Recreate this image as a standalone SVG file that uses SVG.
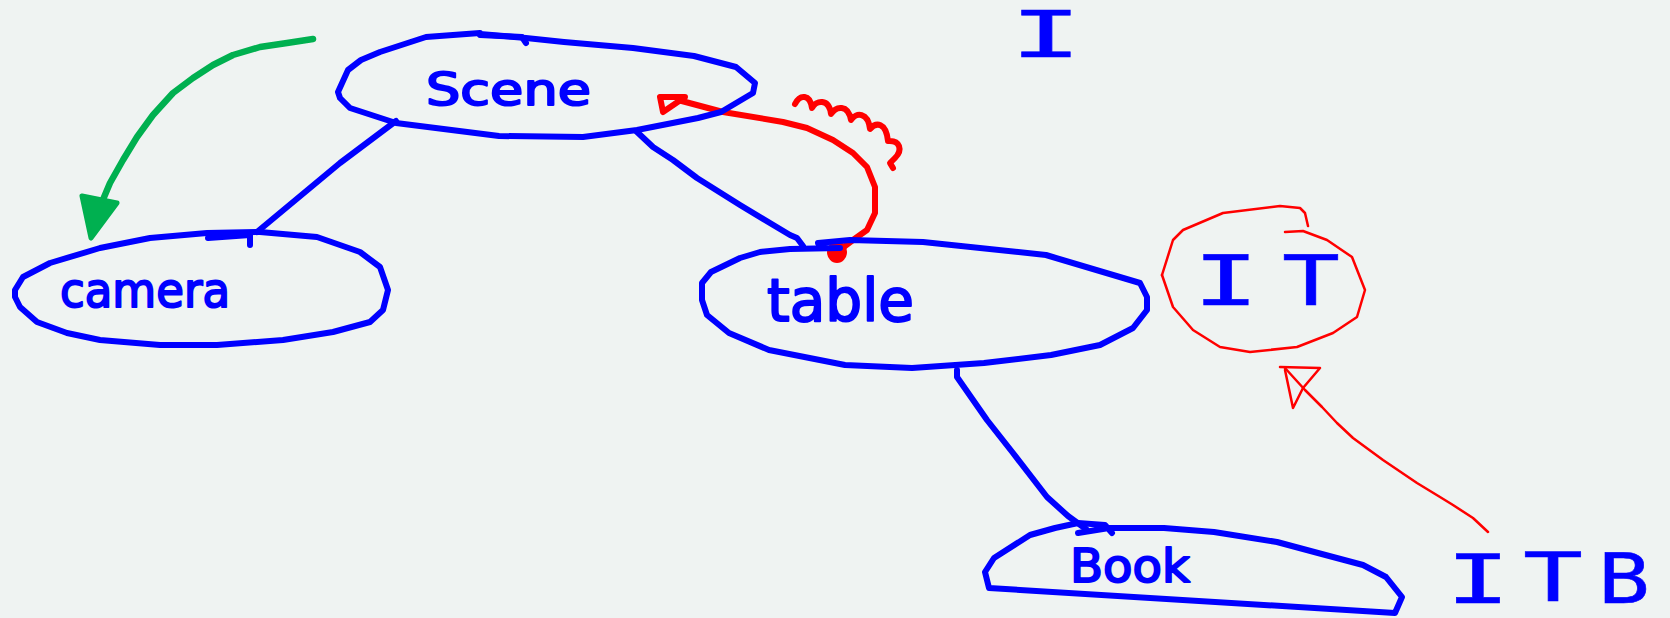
<svg xmlns="http://www.w3.org/2000/svg" width="1670" height="618" viewBox="0 0 1670 618">
<style>
.bg{fill:#eff3f2}
.b{fill:none;stroke:#0000ff;stroke-width:6;stroke-linecap:round;stroke-linejoin:round}
.r{fill:none;stroke:#ff0000;stroke-width:6;stroke-linecap:round;stroke-linejoin:round}
.rt{fill:none;stroke:#ff0000;stroke-width:2.5;stroke-linecap:round;stroke-linejoin:round}
.g{fill:none;stroke:#00b050;stroke-width:6.5;stroke-linecap:round;stroke-linejoin:round}
.lbl{font-family:"DejaVu Sans","Liberation Sans",sans-serif;fill:#0000ff;stroke:#0000ff;stroke-width:2;stroke-linejoin:round}
.cap{font-family:"DejaVu Sans Mono","Liberation Mono",monospace;fill:#0000ff;stroke:#0000ff;stroke-width:0.5;text-anchor:middle}
</style>
<rect class="bg" x="0" y="0" width="1670" height="618"/>

<g id="connectors">
  <polyline class="b" points="396,121 340,163 257,232"/>
  <polyline class="b" points="636,131 653,147 673,160 697,178 740,205 790,235 797,238 803,246"/>
  <polyline class="b" points="957,370 957,377 987,420 1013,453 1047,497 1068,516 1079,524 1086,529"/>
  <path class="g" d="M313,39 L287,43 L260,47 L233,55 L213,65 L193,78 L173,93 L153,115 L137,137 L123,160 L110,183 L102,202"/>
  <polygon points="82,196 117,203 91,238" fill="#00b050" stroke="#00b050" stroke-width="5" stroke-linejoin="round"/>
  <polyline class="r" points="837,252 853,240 867,230 875,213 875,187 867,167 853,153 833,140 807,128 783,122 723,112 678,100"/>
  <polygon class="r" points="660,97 685,97 663,112" stroke-width="7"/>
  <ellipse cx="837" cy="252" rx="10" ry="11" fill="#ff0000"/>
  <path class="r" d="M795,104 C800,94 810,94 812,108 C816,100 829,98 831,114 C836,106 848,104 851,120 C856,112 868,112 870,129 C876,122 886,122 888,141 C900,140 903,150 895,158 L890,163 L893,168"/>
  <polyline class="rt" points="1488,532 1473,518 1453,505 1440,497 1417,483 1383,460 1353,438 1337,423 1322,407 1305,390 1285,368"/>
  <polyline class="rt" points="1280,367 1320,368 1303,388 1293,408 1285,370"/>
</g>

<g id="node-scene">
  <polyline class="b" points="480,34 526,38 564,42 633,48 694,56 736,67 755,83 753,93 721,112 698,118 637,130 583,137 499,136 396,123 350,108 340,98 338,92 348,70 361,60 380,52 426,37 480,33"/>
  <polyline class="b" points="480,35 522,37 526,43" stroke-width="7"/>
  <text class="lbl" x="426" y="105" font-size="44" textLength="165" lengthAdjust="spacingAndGlyphs">Scene</text>
</g>

<g id="node-camera">
  <polyline class="b" points="260,232 317,237 360,252 380,267 388,290 383,310 370,322 333,332 283,340 217,345 160,345 100,340 67,333 37,322 20,307 15,297 15,290 23,277 50,263 100,248 150,238 207,233 260,232"/>
  <polyline class="b" points="208,238 250,235 250,245"/>
  <text class="lbl" x="60" y="307" font-size="48" textLength="170" lengthAdjust="spacingAndGlyphs">camera</text>
</g>

<g id="node-table">
  <polyline class="b" points="818,243 850,240 923,242 1046,255 1140,283 1147,297 1147,310 1133,328 1100,345 1051,355 984,363 912,368 845,365 769,350 729,333 707,315 702,300 702,283 711,272 740,258 760,252 790,249 840,248"/>
  <text class="lbl" x="767" y="321" font-size="58" textLength="147" lengthAdjust="spacingAndGlyphs">table</text>
</g>

<g id="node-book">
  <polyline class="b" points="1078,533 1109,528 1164,528 1214,532 1277,542 1318,553 1363,565 1386,577 1402,597 1395,613 989,588 985,572 994,558 1030,535 1055,528 1078,523 1105,525 1112,533"/>
  <text class="lbl" x="1070" y="582" font-size="46" textLength="120" lengthAdjust="spacingAndGlyphs">Book</text>
</g>

<g id="node-it">
  <polyline class="rt" points="1308,226 1305,213 1300,208 1280,206 1223,213 1183,230 1173,240 1162,275"/>
  <polyline class="rt" points="1285,232 1303,231 1327,240 1352,257 1365,290 1357,317 1333,333 1297,347 1250,352 1220,347 1193,330 1173,307 1162,275"/>
  <text class="cap" x="1226" y="305" font-size="70" textLength="66" lengthAdjust="spacingAndGlyphs">I</text>
  <text class="cap" x="1311" y="305" font-size="70" textLength="58" lengthAdjust="spacingAndGlyphs">T</text>
</g>

<g id="node-i">
  <text class="cap" x="1046" y="57" font-size="64" textLength="72" lengthAdjust="spacingAndGlyphs">I</text>
</g>

<g id="node-itb">
  <text class="cap" x="1478" y="603" font-size="68" textLength="64" lengthAdjust="spacingAndGlyphs">I</text>
  <text class="cap" x="1553" y="601" font-size="68" textLength="60" lengthAdjust="spacingAndGlyphs">T</text>
  <text class="cap" x="1624" y="603" font-size="70" textLength="52" lengthAdjust="spacingAndGlyphs">B</text>
</g>
</svg>
